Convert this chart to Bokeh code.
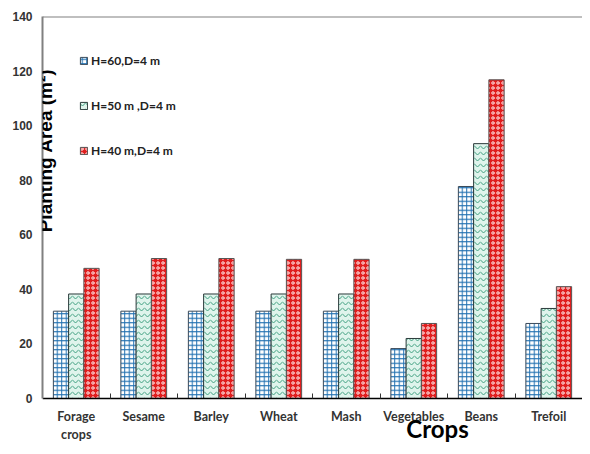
import math
from bokeh.plotting import figure
from bokeh.models import FixedTicker, Range1d, Label, Legend, LegendItem, Span
from bokeh.embed import file_html
from bokeh.resources import INLINE

crops = ["Forage\ncrops", "Sesame", "Barley", "Wheat", "Mash", "Vegetables", "Beans", "Trefoil"]
h60 = [32, 32, 32, 32, 32, 18.3, 77.7, 27.5]
h50 = [38.3, 38.3, 38.3, 38.3, 38.3, 22, 93.4, 33]
h40 = [47.7, 51.3, 51.3, 51, 51, 27.5, 116.8, 41]
series_names = ["H=60,D=4 m", "H=50 m ,D=4 m", "H=40 m,D=4 m"]
y_ticks = [0, 20, 40, 60, 80, 100, 120, 140]

W, H = 582, 446
top_px, zero_px = 16, 398
ymax = 140
y_start = -(H - zero_px) * ymax / (zero_px - top_px)

p = figure(width=W, height=H, output_backend="svg", toolbar_location=None,
           x_range=Range1d(0, len(crops)), y_range=Range1d(y_start, ymax),
           min_border_left=42, min_border_top=top_px, min_border_right=0, min_border_bottom=0)
p.grid.visible = False
p.background_fill_color = "white"
p.outline_line_color = None
p.add_layout(Span(location=ymax, dimension="width", line_color="#808080", line_width=2))

bw = 0.226
centers = [i + 0.5 for i in range(len(crops))]
r1 = p.vbar(x=[c - bw for c in centers], top=h60, width=bw, fill_color="white",
            hatch_pattern="cross", hatch_color="#1f6fb0", hatch_scale=4.5, hatch_weight=1,
            line_color="#3a4a5a", line_width=1)
r2 = p.vbar(x=centers, top=h50, width=bw, fill_color="#dff4ec",
            hatch_pattern="horizontal_wave", hatch_color="#3f9f7f", hatch_scale=6, hatch_weight=1,
            line_color="#2a3a3a", line_width=1)
r3 = p.vbar(x=[c + bw for c in centers], top=h40, width=bw, fill_color="#e01e1e",
            hatch_pattern="ring", hatch_color="#ffe8e8", hatch_scale=5, hatch_weight=1,
            line_color="#555555", line_width=1)

legend = Legend(items=[LegendItem(label=series_names[0], renderers=[r1]),
                       LegendItem(label=series_names[1], renderers=[r2]),
                       LegendItem(label=series_names[2], renderers=[r3])],
                location="top_left", margin=37, padding=0, spacing=30,
                glyph_width=9, glyph_height=9, label_height=14, label_standoff=3,
                label_text_font="Lato", label_text_font_style="bold",
                label_text_font_size="12px", label_text_color="#222222",
                background_fill_alpha=0, border_line_alpha=0)
p.add_layout(legend)

xa = p.xaxis[0]
xa.fixed_location = 0
xa.ticker = FixedTicker(ticks=centers, minor_ticks=list(range(1, len(crops))))
xa.major_label_overrides = {c: name for c, name in zip(centers, crops)}
xa.major_tick_in = 0
xa.major_tick_out = 0
xa.minor_tick_in = 5
xa.minor_tick_out = 0
xa.minor_tick_line_color = "#333333"
xa.axis_line_color = "black"
xa.axis_line_width = 1.5
xa.major_label_text_font = "Lato"
xa.major_label_text_font_style = "bold"
xa.major_label_text_font_size = "12.5px"
xa.major_label_text_color = "#333333"
xa.major_label_standoff = 10

ya = p.yaxis[0]
ya.bounds = (0, ymax)
ya.ticker = FixedTicker(ticks=y_ticks)
ya.major_tick_in = 0
ya.major_tick_out = 0
ya.minor_tick_in = 0
ya.minor_tick_out = 0
ya.axis_line_color = "#808080"
ya.axis_line_width = 2
ya.major_label_text_font = "Liberation Sans"
ya.major_label_text_font_style = "bold"
ya.major_label_text_font_size = "12px"
ya.major_label_text_color = "#333333"
ya.major_label_standoff = 10

p.add_layout(Label(x=3, y=H - 150, x_units="screen", y_units="screen", text="Planting Area (m²)",
                   angle=math.pi / 2, text_align="center", text_baseline="middle",
                   text_font="Liberation Sans", text_font_style="bold", text_font_size="19px",
                   text_color="black"))
p.add_layout(Label(x=395, y=H - 428, x_units="screen", y_units="screen", text="Crops",
                   text_align="center", text_baseline="middle",
                   text_font="Lato", text_font_style="bold", text_font_size="24px",
                   text_color="black"))

open("out.html", "w").write(file_html(p, INLINE))
